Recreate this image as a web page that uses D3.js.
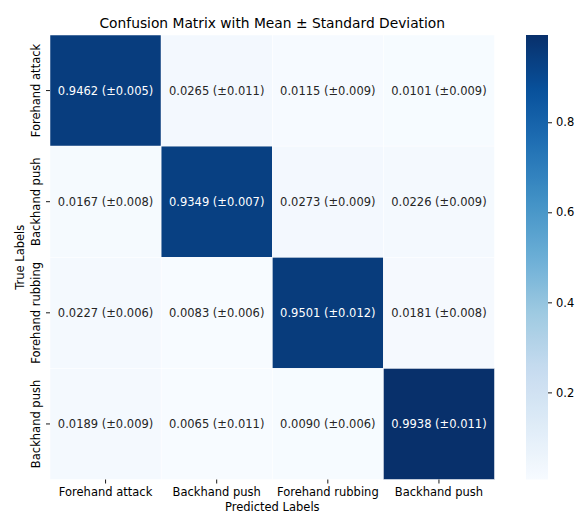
<!DOCTYPE html>
<html>
<head>
<meta charset="utf-8">
<script src="https://cdn.jsdelivr.net/npm/d3@7"></script>
<style>
  html, body { margin: 0; padding: 0; background: #fff; }
  svg { display: block; font-family: "DejaVu Sans", sans-serif; }
</style>
</head>
<body>
<svg id="chart" width="576" height="513"></svg>
<script>
// Class names along both axes
const trueLabels = ["Forehand attack", "Backhand push", "Forehand rubbing", "Backhand push"];
const predLabels = ["Forehand attack", "Backhand push", "Forehand rubbing", "Backhand push"];

// Mean rate per (true row, predicted column)
const meanValues = [
  [0.9462, 0.0265, 0.0115, 0.0101],
  [0.0167, 0.9349, 0.0273, 0.0226],
  [0.0227, 0.0083, 0.9501, 0.0181],
  [0.0189, 0.0065, 0.0090, 0.9938]
];

// Standard deviation per cell
const stdValues = [
  [0.005, 0.011, 0.009, 0.009],
  [0.008, 0.007, 0.009, 0.009],
  [0.006, 0.006, 0.012, 0.008],
  [0.009, 0.011, 0.006, 0.011]
];

const colorbarTicks = [0.2, 0.4, 0.6, 0.8];

// Blues colour ramp (ColorBrewer stops, linear interpolation)
const bluesStops = ["#f7fbff", "#deebf7", "#c6dbef", "#9ecae1", "#6baed6",
                    "#4292c6", "#2171b5", "#08519c", "#08306b"];

const svg = d3.select("#chart");

const plot = { left: 50, right: 494.5, top: 35, bottom: 479.5 };
const cb = { left: 526, right: 548 };

const cells = [];
meanValues.forEach((row, i) => row.forEach((v, j) => {
  cells.push({ i, j, v, s: stdValues[i][j] });
}));

const vmin = d3.min(cells, d => d.v);
const vmax = d3.max(cells, d => d.v);

const ramp = d3.scaleLinear()
  .domain(d3.range(bluesStops.length).map(k => k / (bluesStops.length - 1)))
  .range(bluesStops)
  .interpolate(d3.interpolateRgb)
  .clamp(true);
const norm = d3.scaleLinear().domain([vmin, vmax]).range([0, 1]).clamp(true);
const color = v => ramp(norm(v));

const x = d3.scaleBand().domain(d3.range(predLabels.length)).range([plot.left, plot.right]);
const y = d3.scaleBand().domain(d3.range(trueLabels.length)).range([plot.top, plot.bottom]);

// Cells
svg.append("g")
  .selectAll("rect")
  .data(cells)
  .join("rect")
  .attr("x", d => x(d.j))
  .attr("y", d => y(d.i))
  .attr("width", x.bandwidth())
  .attr("height", y.bandwidth())
  .attr("fill", d => color(d.v))
  .attr("stroke", "#ffffff")
  .attr("stroke-width", 0.5);

// Relative luminance decides light or dark annotation text
function luminance(c) {
  const rgb = d3.rgb(c);
  const lin = ch => { ch /= 255; return ch <= 0.03928 ? ch / 12.92 : Math.pow((ch + 0.055) / 1.055, 2.4); };
  return 0.2126 * lin(rgb.r) + 0.7152 * lin(rgb.g) + 0.0722 * lin(rgb.b);
}

svg.append("g")
  .selectAll("text")
  .data(cells)
  .join("text")
  .attr("x", d => x(d.j) + x.bandwidth() / 2)
  .attr("y", d => y(d.i) + y.bandwidth() / 2)
  .attr("text-anchor", "middle")
  .attr("dominant-baseline", "central")
  .attr("font-size", "11.5px")
  .attr("fill", d => luminance(color(d.v)) > 0.408 ? "#262626" : "#ffffff")
  .text(d => `${d.v.toFixed(4)} (\u00b1${d.s.toFixed(3)})`);

// Bottom axis
const xAxis = svg.append("g")
  .attr("transform", `translate(0,${plot.bottom})`)
  .call(d3.axisBottom(x).tickSize(4).tickPadding(4).tickFormat(j => predLabels[j]));
xAxis.select(".domain").remove();
xAxis.selectAll("text").attr("font-size", "11.5px").attr("font-family", "DejaVu Sans").attr("fill", "#000");
xAxis.selectAll("line").attr("stroke", "#000").attr("stroke-width", 0.9);

// Left axis with vertical labels
const yAxis = svg.append("g")
  .attr("transform", `translate(${plot.left},0)`)
  .call(d3.axisLeft(y).tickSize(4).tickPadding(4).tickFormat(i => trueLabels[i]));
yAxis.select(".domain").remove();
yAxis.selectAll("line").attr("stroke", "#000").attr("stroke-width", 0.9);
yAxis.selectAll("text")
  .attr("font-size", "11.5px")
  .attr("font-family", "DejaVu Sans")
  .attr("fill", "#000")
  .attr("x", null).attr("dy", null)
  .attr("text-anchor", "middle")
  .attr("transform", "translate(-10.5,0) rotate(-90)");

// Title and axis titles
svg.append("text")
  .attr("x", (plot.left + plot.right) / 2)
  .attr("y", 28.3)
  .attr("text-anchor", "middle")
  .attr("font-size", "13.8px")
  .attr("fill", "#000")
  .text("Confusion Matrix with Mean \u00b1 Standard Deviation");

svg.append("text")
  .attr("x", (plot.left + plot.right) / 2)
  .attr("y", 510.5)
  .attr("text-anchor", "middle")
  .attr("font-size", "11.5px")
  .attr("fill", "#000")
  .text("Predicted Labels");

svg.append("text")
  .attr("transform", `translate(23.5,${(plot.top + plot.bottom) / 2}) rotate(-90)`)
  .attr("text-anchor", "middle")
  .attr("font-size", "11.5px")
  .attr("fill", "#000")
  .text("True Labels");

// Colour bar
const cbScale = d3.scaleLinear().domain([vmin, vmax]).range([plot.bottom, plot.top]);
const grad = svg.append("defs").append("linearGradient")
  .attr("id", "cbGrad")
  .attr("x1", 0).attr("y1", 1).attr("x2", 0).attr("y2", 0);
d3.range(0, 1.0001, 0.02).forEach(t => {
  grad.append("stop")
    .attr("offset", t)
    .attr("stop-color", ramp(t));
});
svg.append("rect")
  .attr("x", cb.left)
  .attr("y", plot.top)
  .attr("width", cb.right - cb.left)
  .attr("height", plot.bottom - plot.top)
  .attr("fill", "url(#cbGrad)");

const cbAxis = svg.append("g")
  .attr("transform", `translate(${cb.right},0)`)
  .call(d3.axisRight(cbScale).tickValues(colorbarTicks).tickSize(4).tickPadding(4).tickFormat(d3.format(".1f")));
cbAxis.select(".domain").remove();
cbAxis.selectAll("line").attr("stroke", "#000").attr("stroke-width", 0.9);
cbAxis.selectAll("text").attr("font-size", "11.5px").attr("font-family", "DejaVu Sans").attr("fill", "#000");
</script>
</body>
</html>
